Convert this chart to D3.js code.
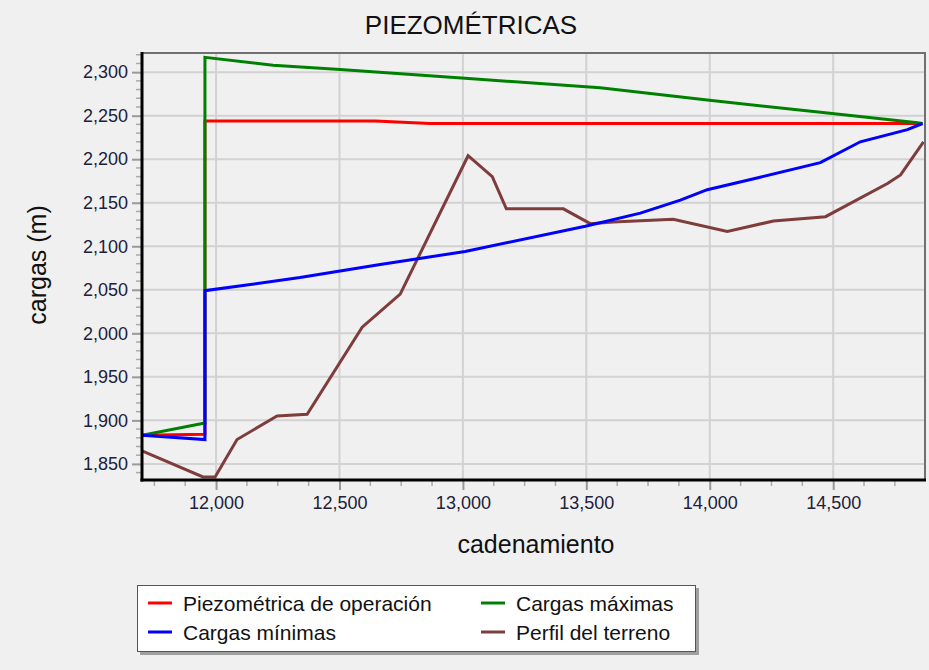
<!DOCTYPE html>
<html><head><meta charset="utf-8">
<script src="https://cdn.jsdelivr.net/npm/d3@7"></script>
<style>
html,body{margin:0;padding:0;background:#f0f0f0;}
svg{display:block;font-family:"Liberation Sans",Arial,sans-serif;}
</style></head>
<body><svg id="c" width="929" height="670"></svg>
<script>
// ---- data ----
const xTicks = [12000, 12500, 13000, 13500, 14000, 14500];
const yTicks = [1850, 1900, 1950, 2000, 2050, 2100, 2150, 2200, 2250, 2300];

const chainOperacion = [11700, 11955, 11955, 12645, 12867, 14862];
const headOperacion  = [1883, 1884, 2244, 2244, 2241, 2241];

const chainMaximas = [11700, 11955, 11955, 12231, 12503, 13009, 13556, 13990, 14477, 14842, 14862];
const headMaximas  = [1883, 1897, 2317, 2308, 2303, 2293, 2282, 2268, 2253, 2242, 2241];

const chainMinimas = [11700, 11955, 11955, 12340, 12665, 13009, 13496, 13719, 13881, 13990, 14200, 14448, 14610, 14801, 14862];
const headMinimas  = [1883, 1878, 2049, 2064, 2079, 2094, 2123, 2138, 2153, 2165, 2179, 2196, 2220, 2234, 2241];

const chainTerreno = [11700, 11947, 11996, 12085, 12247, 12369, 12592, 12746, 13021, 13119, 13176, 13407, 13516, 13609, 13852, 14071, 14258, 14469, 14720, 14773, 14866];
const headTerreno  = [1865, 1835, 1835, 1878, 1905, 1907, 2007, 2045, 2204, 2180, 2143, 2143, 2126, 2128, 2131, 2117, 2129, 2134, 2172, 2182, 2220];

const seriesNames = ["Piezométrica de operación", "Cargas máximas", "Cargas mínimas", "Perfil del terreno"];
const seriesColors = ["#ff0000", "#008000", "#0000ff", "#7f3c3c"];

// ---- layout ----
const L = 142, R = 925, T = 53, B = 480;
const svg = d3.select("#c");
const x = d3.scaleLinear().domain([11700, 14872]).range([L, R]);
const y = d3.scaleLinear().domain([1831.5, 2322]).range([B, T]);
const fmt = d3.format(",");

// gridlines
const grid = svg.append("g").attr("stroke", "#d2d2d2").attr("stroke-width", 2);
xTicks.forEach(v => grid.append("line").attr("x1", x(v)).attr("x2", x(v)).attr("y1", T).attr("y2", B));
yTicks.forEach(v => grid.append("line").attr("x1", L).attr("x2", R).attr("y1", y(v)).attr("y2", y(v)));

// axes (ticks + labels)
const xMinor = d3.range(11750, 14872, 125).filter(v => !xTicks.includes(v));
const yMinor = d3.range(1840, 2322, 10).filter(v => !yTicks.includes(v));

const xAxis = d3.axisBottom(x).tickValues(xTicks).tickFormat(fmt).tickSize(9).tickPadding(6);
const gx = svg.append("g").attr("transform", `translate(0,${B + 1})`).call(xAxis);
gx.select(".domain").remove();
gx.selectAll(".tick line").attr("stroke", "#999").attr("stroke-width", 2);
gx.selectAll(".tick text").attr("font-size", 18).attr("fill", "#20203a").attr("font-family", "Liberation Sans, Arial, sans-serif");
svg.append("g").selectAll("line").data(xMinor).join("line")
  .attr("x1", d => x(d)).attr("x2", d => x(d)).attr("y1", B + 1).attr("y2", B + 6)
  .attr("stroke", "#aaa").attr("stroke-width", 1.5);

const yAxis = d3.axisLeft(y).tickValues(yTicks).tickFormat(fmt).tickSize(9).tickPadding(4);
const gy = svg.append("g").attr("transform", `translate(${L - 1},0)`).call(yAxis);
gy.select(".domain").remove();
gy.selectAll(".tick line").attr("stroke", "#999").attr("stroke-width", 2);
gy.selectAll(".tick text").attr("font-size", 18).attr("fill", "#20203a").attr("font-family", "Liberation Sans, Arial, sans-serif");
svg.append("g").selectAll("line").data(yMinor).join("line")
  .attr("x1", L - 6).attr("x2", L - 1).attr("y1", d => y(d)).attr("y2", d => y(d))
  .attr("stroke", "#aaa").attr("stroke-width", 1.5);

// series
const clip = svg.append("clipPath").attr("id", "pc").append("rect")
  .attr("x", L).attr("y", T).attr("width", R - L).attr("height", B - T);
const line = d3.line().x(d => x(d[0])).y(d => y(d[1]));
const zip = (a, b) => a.map((v, i) => [v, b[i]]);
const seriesData = [
  zip(chainOperacion, headOperacion),
  zip(chainMaximas, headMaximas),
  zip(chainMinimas, headMinimas),
  zip(chainTerreno, headTerreno)
];
const gs = svg.append("g").attr("clip-path", "url(#pc)");
// draw order: terrain, operation, maxima, minima
[3, 0, 1, 2].forEach(i => {
  gs.append("path").attr("d", line(seriesData[i])).attr("fill", "none")
    .attr("stroke", seriesColors[i]).attr("stroke-width", 3).attr("stroke-linejoin", "miter");
});

// frame
svg.append("line").attr("x1", L).attr("x2", R + 1).attr("y1", T).attr("y2", T).attr("stroke", "#707070").attr("stroke-width", 2);
svg.append("line").attr("x1", R).attr("x2", R).attr("y1", T).attr("y2", B).attr("stroke", "#707070").attr("stroke-width", 2);
svg.append("line").attr("x1", L).attr("x2", L).attr("y1", T - 1).attr("y2", B + 1.5).attr("stroke", "#000").attr("stroke-width", 3);
svg.append("line").attr("x1", L - 1.5).attr("x2", R + 1).attr("y1", B).attr("y2", B).attr("stroke", "#000").attr("stroke-width", 3);

// titles
svg.append("text").attr("x", 471).attr("y", 34).attr("text-anchor", "middle")
  .attr("font-size", 26).attr("fill", "#111").text("PIEZOMÉTRICAS");
svg.append("text").attr("x", 536).attr("y", 553).attr("text-anchor", "middle")
  .attr("font-size", 25).attr("fill", "#111").text("cadenamiento");
svg.append("text").attr("transform", "translate(46,265) rotate(-90)").attr("text-anchor", "middle")
  .attr("font-size", 25).attr("fill", "#111").text("cargas (m)");

// legend
const lg = svg.append("g");
lg.append("rect").attr("x", 140).attr("y", 588).attr("width", 559).attr("height", 67).attr("fill", "#a0a0a0");
lg.append("rect").attr("x", 137.5).attr("y", 585.5).attr("width", 558).attr("height", 66).attr("fill", "#fff").attr("stroke", "#555").attr("stroke-width", 1);
const legPos = [[148, 603], [481, 603], [148, 632], [481, 632]];
seriesNames.forEach((n, i) => {
  const [lx, ly] = legPos[i];
  lg.append("line").attr("x1", lx).attr("x2", lx + 24).attr("y1", ly).attr("y2", ly)
    .attr("stroke", seriesColors[i]).attr("stroke-width", 3);
  lg.append("text").attr("x", lx + 35).attr("y", ly + 8).attr("font-size", 21).attr("fill", "#111").text(n);
});
</script></body></html>
